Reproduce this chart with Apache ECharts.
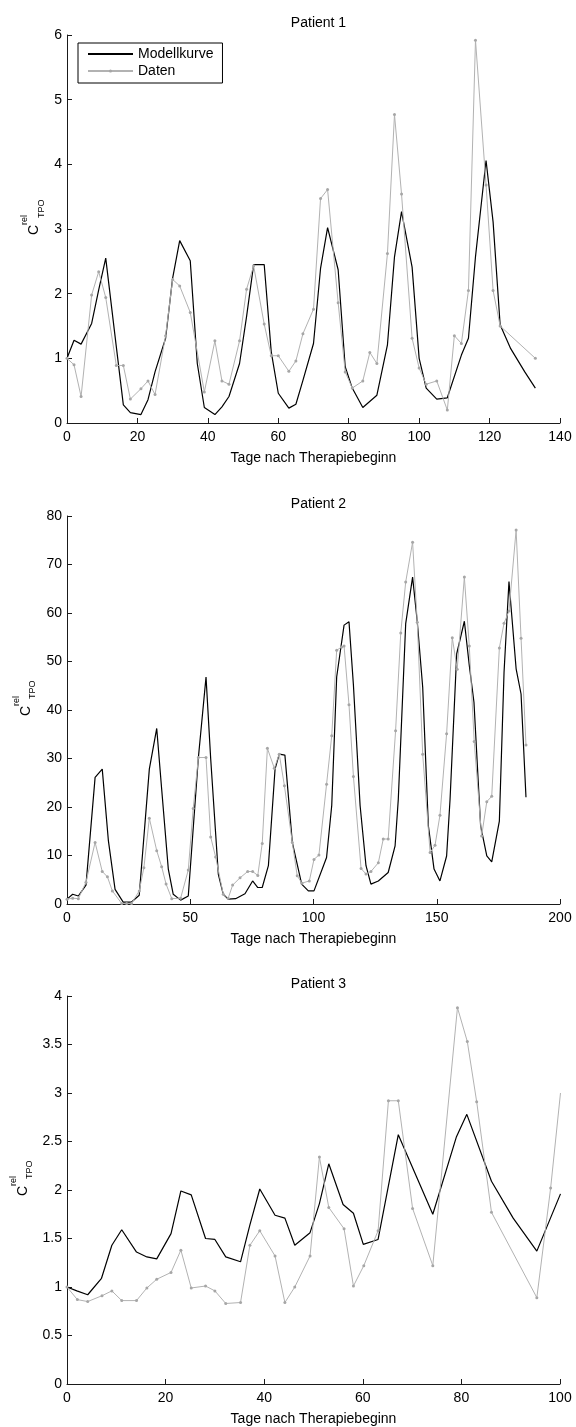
<!DOCTYPE html>
<html>
<head>
<meta charset="utf-8">
<script src="https://cdn.jsdelivr.net/npm/echarts@6/dist/echarts.min.js"></script>
<style>
  html, body { margin: 0; padding: 0; background: #fff; }
  #chart { width: 576px; height: 1427px; }
</style>
</head>
<body>
<div id="chart"></div>
<script>
// Relative TPO concentration: model curve vs. measured data, three patients

const xAxisTitle = 'Tage nach Therapiebeginn';
const panelTitles = ['Patient 1', 'Patient 2', 'Patient 3'];
const seriesNames = ['Modellkurve', 'Daten'];

// x / y axis ticks per panel
const xTicks1 = [0, 20, 40, 60, 80, 100, 120, 140];
const yTicks1 = [0, 1, 2, 3, 4, 5, 6];
const xTicks2 = [0, 50, 100, 150, 200];
const yTicks2 = [0, 10, 20, 30, 40, 50, 60, 70, 80];
const xTicks3 = [0, 20, 40, 60, 80, 100];
const yTicks3 = [0, 0.5, 1, 1.5, 2, 2.5, 3, 3.5, 4];

// Patient 1
const modelDays1 = [0, 2, 4, 7, 9, 11, 14, 16, 18, 21, 23, 25, 28, 30, 32, 35, 37, 39, 42, 44, 46, 49, 51, 53, 56, 58, 60, 63, 65, 67, 70, 72, 74, 77, 79, 81, 84, 88, 91, 93, 95, 98, 100, 102, 105, 108, 112, 114, 116, 119, 121, 123, 126, 130, 133];
const modelValues1 = [1.0, 1.28, 1.22, 1.54, 2.06, 2.55, 1.18, 0.28, 0.16, 0.13, 0.36, 0.79, 1.31, 2.24, 2.82, 2.51, 0.92, 0.24, 0.13, 0.25, 0.41, 0.92, 1.65, 2.45, 2.45, 1.10, 0.46, 0.23, 0.29, 0.66, 1.23, 2.39, 3.02, 2.37, 0.87, 0.54, 0.24, 0.43, 1.21, 2.57, 3.27, 2.41, 1.00, 0.54, 0.37, 0.39, 1.05, 1.31, 2.57, 4.06, 3.11, 1.52, 1.15, 0.79, 0.54];
const dataDays1 = [0, 2, 4, 7, 9, 11, 14, 16, 18, 21, 23, 25, 28, 30, 32, 35, 39, 42, 44, 46, 49, 51, 53, 56, 58, 60, 63, 65, 67, 70, 72, 74, 77, 79, 81, 84, 86, 88, 91, 93, 95, 98, 100, 102, 105, 108, 110, 112, 114, 116, 119, 121, 123, 133];
const dataValues1 = [1.0, 0.90, 0.41, 1.98, 2.34, 1.94, 0.89, 0.89, 0.37, 0.53, 0.65, 0.44, 1.35, 2.22, 2.12, 1.71, 0.48, 1.27, 0.65, 0.60, 1.27, 2.07, 2.43, 1.53, 1.04, 1.04, 0.80, 0.96, 1.38, 1.76, 3.47, 3.61, 1.86, 0.79, 0.54, 0.65, 1.09, 0.92, 2.62, 4.77, 3.54, 1.31, 0.85, 0.60, 0.65, 0.20, 1.35, 1.23, 2.05, 5.92, 3.68, 2.05, 1.50, 1.0];

// Patient 2
const modelDays2 = [0, 2.3, 4.6, 7.7, 11.4, 14.3, 16.8, 19.5, 22.8, 26.2, 29.3, 33.4, 36.4, 38.4, 41.1, 43.1, 46.1, 49.2, 53.3, 56.4, 58.3, 61.4, 63.4, 65.4, 68.4, 72.2, 75.3, 77.4, 79.2, 81.7, 84.4, 86.1, 88.4, 91.4, 95.2, 97.9, 100.2, 105.3, 107.4, 109.4, 112.4, 114.4, 116.2, 118.9, 121.3, 123.3, 126.3, 130.3, 133.1, 134.4, 137.4, 140.2, 142.1, 144.3, 146.6, 148.9, 151.3, 154.0, 155.4, 158.1, 161.2, 163.2, 165.1, 167.8, 170.3, 172.3, 175.4, 177.3, 179.3, 182.2, 184.2, 186.2];
const modelValues2 = [1.0, 2.0, 1.65, 3.9, 26.1, 27.8, 13.0, 3.0, 0.4, 0.4, 1.8, 27.8, 36.2, 23.7, 7.2, 2.0, 0.8, 1.65, 30.2, 46.8, 29.9, 6.1, 2.0, 1.0, 1.1, 2.1, 4.75, 3.4, 3.4, 7.9, 27.8, 30.9, 30.7, 12.7, 4.1, 2.7, 2.7, 9.6, 20.3, 46.8, 57.5, 58.2, 45.1, 20.3, 7.9, 4.1, 4.75, 6.5, 12.0, 21.6, 57.8, 67.4, 58.2, 44.7, 16.1, 7.2, 4.75, 9.9, 21.6, 51.6, 58.3, 49.2, 41.6, 16.1, 9.9, 8.7, 17.1, 47.8, 66.5, 48.5, 43.3, 22.0];
const dataDays2 = [0, 2.3, 4.6, 7.7, 11.4, 14.3, 16.4, 18.4, 22.2, 24.2, 26.2, 29.3, 31.2, 33.4, 36.4, 38.4, 40.2, 42.5, 46.1, 49.2, 51.2, 53.3, 56.4, 58.3, 60.3, 63.4, 65.4, 67.2, 70.2, 73.3, 75.3, 77.4, 79.2, 81.3, 84.1, 86.1, 88.2, 91.4, 93.4, 95.3, 98.3, 100.2, 102.2, 105.3, 107.4, 109.4, 111.4, 112.4, 114.4, 116.2, 119.3, 121.3, 123.3, 126.3, 128.3, 130.3, 133.3, 135.4, 137.4, 140.2, 142.1, 144.3, 147.3, 149.3, 151.3, 154.0, 156.3, 158.3, 161.2, 163.2, 165.2, 168.2, 170.3, 172.3, 175.4, 177.3, 179.3, 182.2, 184.2, 186.2];
const dataValues2 = [1.0, 1.2, 1.1, 4.5, 12.7, 6.7, 5.6, 2.7, 0.1, 0.1, 0.1, 2.7, 7.5, 17.7, 11.0, 7.7, 4.1, 1.1, 1.2, 7.0, 19.7, 30.2, 30.2, 13.8, 9.7, 2.0, 1.2, 3.9, 5.4, 6.7, 6.7, 5.9, 12.5, 32.1, 28.0, 30.9, 24.4, 12.7, 5.8, 4.3, 4.75, 9.2, 10.1, 24.7, 34.7, 52.3, 53.0, 53.2, 41.1, 26.3, 7.3, 6.2, 6.7, 8.5, 13.4, 13.4, 35.7, 55.9, 66.4, 74.6, 58.1, 30.9, 10.6, 12.1, 18.3, 35.1, 54.9, 48.4, 67.4, 53.2, 33.5, 14.0, 21.1, 22.2, 52.8, 57.9, 60.4, 77.1, 54.8, 32.8];

// Patient 3
const modelDays3 = [0, 2, 4.2, 7, 9.1, 11.1, 14.1, 16.2, 18.2, 21.1, 23.1, 25.2, 28.1, 30, 32.2, 35.2, 37.1, 39.1, 42.2, 44.2, 46.2, 49.3, 51.2, 53.1, 56, 58.1, 60.1, 63.1, 67.2, 74.2, 79, 81.1, 86.1, 90.5, 95.3, 100.1];
const modelValues3 = [1.0, 0.96, 0.92, 1.09, 1.43, 1.59, 1.36, 1.31, 1.29, 1.55, 1.99, 1.95, 1.50, 1.49, 1.31, 1.26, 1.64, 2.01, 1.74, 1.71, 1.43, 1.56, 1.86, 2.27, 1.85, 1.76, 1.44, 1.49, 2.57, 1.75, 2.55, 2.78, 2.09, 1.71, 1.37, 1.96];
const dataDays3 = [0, 2.1, 4.2, 7.1, 9.1, 11.1, 14.1, 16.2, 18.2, 21.1, 23.1, 25.2, 28.1, 30, 32.2, 35.2, 37.1, 39.1, 42.2, 44.2, 46.2, 49.3, 51.2, 53.1, 56.2, 58.1, 60.2, 63.1, 65.2, 67.2, 70.1, 74.2, 79.2, 81.2, 83.1, 86.1, 95.3, 98.1, 100.1];
const dataValues3 = [1.0, 0.87, 0.85, 0.91, 0.96, 0.86, 0.86, 0.99, 1.08, 1.15, 1.38, 0.99, 1.01, 0.96, 0.83, 0.84, 1.43, 1.58, 1.32, 0.84, 1.0, 1.32, 2.34, 1.82, 1.60, 1.01, 1.22, 1.58, 2.92, 2.92, 1.81, 1.22, 3.88, 3.53, 2.91, 1.77, 0.89, 2.02, 3.0];

const panels = [
  { xTicks: xTicks1, yTicks: yTicks1, md: modelDays1, mv: modelValues1, dd: dataDays1, dv: dataValues1 },
  { xTicks: xTicks2, yTicks: yTicks2, md: modelDays2, mv: modelValues2, dd: dataDays2, dv: dataValues2 },
  { xTicks: xTicks3, yTicks: yTicks3, md: modelDays3, mv: modelValues3, dd: dataDays3, dv: dataValues3 }
];

// layout
const FONT = '"Liberation Sans", Arial, Helvetica, sans-serif';
const gridLeft = 67, gridWidth = 493, gridHeight = 388;
const gridTops = [35, 516, 996];
const ylabelX = [34.5, 26, 23];   // centre line of the "C" glyph
const axisColor = '#1a1a1a';
const modelColor = '#000000';
const dataColor = '#b2b2b2';

const zip = (xs, ys) => xs.map((x, i) => [x, ys[i]]);

const grids = [], xAxes = [], yAxes = [], series = [], titles = [], graphics = [];

panels.forEach((p, i) => {
  const top = gridTops[i];
  grids.push({ left: gridLeft, top: top, width: gridWidth, height: gridHeight, containLabel: false });
  const axisCommon = {
    gridIndex: i,
    type: 'value',
    splitLine: { show: false },
    axisLine: { show: true, onZero: false, lineStyle: { color: axisColor, width: 1 } },
    axisTick: { show: true, inside: true, length: 5, lineStyle: { color: axisColor, width: 1 } },
    axisLabel: { color: '#000', fontSize: 14, fontFamily: FONT }
  };
  xAxes.push(Object.assign({}, axisCommon, {
    min: p.xTicks[0], max: p.xTicks[p.xTicks.length - 1],
    interval: p.xTicks[1] - p.xTicks[0],
    axisLabel: Object.assign({}, axisCommon.axisLabel, { margin: 7 }),
    name: xAxisTitle, nameLocation: 'middle', nameGap: 28,
    nameTextStyle: { color: '#000', fontSize: 14, fontFamily: FONT }
  }));
  yAxes.push(Object.assign({}, axisCommon, {
    min: p.yTicks[0], max: p.yTicks[p.yTicks.length - 1],
    interval: p.yTicks[1] - p.yTicks[0],
    axisLabel: Object.assign({}, axisCommon.axisLabel, { margin: 5 })
  }));
  series.push({
    name: seriesNames[0], type: 'line', xAxisIndex: i, yAxisIndex: i,
    data: zip(p.md, p.mv), symbol: 'none', showSymbol: false,
    lineStyle: { color: modelColor, width: 1.2 }, itemStyle: { color: modelColor },
    z: 2
  });
  series.push({
    name: seriesNames[1], type: 'line', xAxisIndex: i, yAxisIndex: i,
    data: zip(p.dd, p.dv), symbol: 'circle', symbolSize: 3, showSymbol: true,
    lineStyle: { color: dataColor, width: 1 }, itemStyle: { color: '#a6a6a6' },
    z: 3
  });
  titles.push({
    text: panelTitles[i], left: gridLeft + gridWidth / 2, top: top - 24, textAlign: 'center',
    textStyle: { color: '#000', fontSize: 14, fontWeight: 'normal', fontFamily: FONT }
  });
  // rotated y-axis label: C with superscript "rel" and subscript "TPO"
  graphics.push({
    type: 'group', x: ylabelX[i], y: top + gridHeight / 2 + 6, rotation: Math.PI / 2,
    children: [
      { type: 'text', x: 0, y: 0, style: { text: 'C', fontSize: 14, fontFamily: FONT, fill: '#000', align: 'left', verticalAlign: 'middle' } },
      { type: 'text', x: 10, y: -9.5, style: { text: 'rel', fontSize: 9, fontFamily: FONT, fill: '#000', align: 'left', verticalAlign: 'middle' } },
      { type: 'text', x: 17, y: 7, style: { text: 'TPO', fontSize: 9, fontFamily: FONT, fill: '#000', align: 'left', verticalAlign: 'middle' } }
    ]
  });
});

const chart = echarts.init(document.getElementById('chart'), null, { renderer: 'canvas' });
chart.setOption({
  animation: false,
  backgroundColor: '#ffffff',
  title: titles,
  grid: grids,
  xAxis: xAxes,
  yAxis: yAxes,
  legend: {
    // the model curve is a plain line, so its legend entry carries no marker
    data: [{ name: seriesNames[0], itemStyle: { opacity: 0 } }, { name: seriesNames[1] }],
    orient: 'vertical',
    left: 78, top: 43,
    padding: [4, 9, 5, 9],
    itemGap: 3,
    itemWidth: 45, itemHeight: 4,
    backgroundColor: '#ffffff',
    borderColor: '#000000', borderWidth: 1, borderRadius: 0,
    selectedMode: false,
    textStyle: { color: '#000', fontSize: 14, fontFamily: FONT }
  },
  graphic: graphics,
  series: series
});
</script>
</body>
</html>
